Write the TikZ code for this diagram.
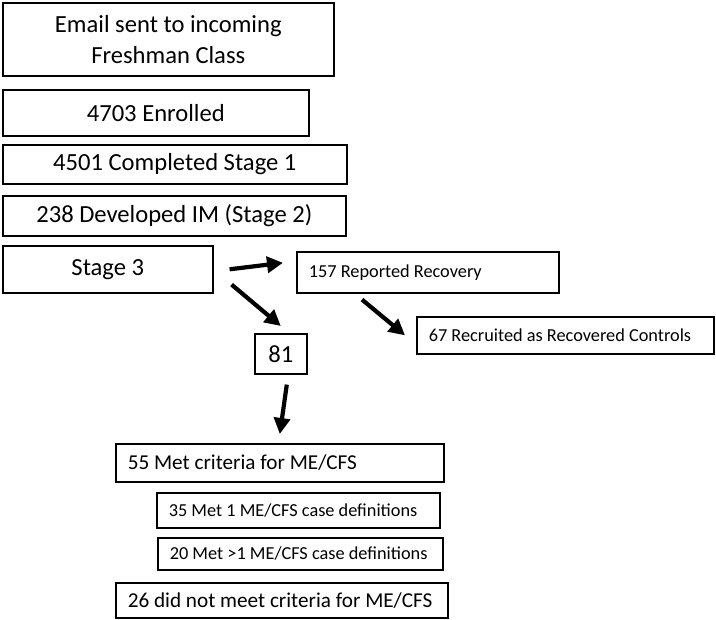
\documentclass[tikz,border=0pt]{standalone}
\usepackage{fontspec}
\setmainfont{Carlito}
\usetikzlibrary{arrows.meta}

\begin{document}
\begin{tikzpicture}[x=1pt,y=-1pt,
			box/.style={draw,line width=1.6pt,inner sep=0pt,anchor=north west,align=center},
			lbox/.style={box,align=flush left,inner xsep=12pt,inner ysep=0pt},
			big/.style={font=\fontsize{24.6}{31}\selectfont},
			mid/.style={font=\fontsize{21.2}{25}\selectfont},
			small/.style={font=\fontsize{18.3}{22}\selectfont},
			tiny/.style={font=\fontsize{18.3}{21}\selectfont},
			flow/.style={-{Triangle[length=16pt,width=16pt]},line width=4.2pt}
			]
		\useasboundingbox (0,0) rectangle (716,620);
		% main column
		\node [box, big, minimum width=331pt, minimum height=73pt] (email) at (2,2) {Email sent to incoming\\Freshman Class};
		\node [box, big, minimum width=306pt, minimum height=46pt] (enr) at (2,89) {4703 Enrolled};
		\node [box, big, minimum width=344pt, minimum height=39pt] (st1) at (2,144) {4501 Completed Stage 1};
		\node [box, big, minimum width=343pt, minimum height=40pt] (st2) at (2,195) {238 Developed IM (Stage 2)};
		\node [box, big, minimum width=210pt, minimum height=47pt] (st3) at (2,245) {Stage 3};

		% recovery branch
		\node [lbox, tiny, text width=238pt, minimum height=41pt] (rec) at (296,251) {157 Reported Recovery};
		\node [lbox, tiny, text width=273pt, minimum height=37pt] (rcv) at (416,316) {67 Recruited as Recovered Controls};

		% ME/CFS branch
		\node [box, big, minimum width=52pt, minimum height=40pt] (n81) at (254,333) {81};
		\node [lbox, mid, text width=304pt, minimum height=38pt] (met) at (115,443) {55 Met criteria for ME/CFS};
		\node [lbox, small, text width=259pt, minimum height=35pt] (one) at (156,492) {35 Met 1 ME/CFS case definitions};
		\node [lbox, small, text width=261pt, minimum height=32pt] (multi) at (157,537) {20 Met >1 ME/CFS case definitions};
		\node [lbox, mid, text width=308pt, minimum height=35pt] (notmet) at (115,582) {26 did not meet criteria for ME/CFS};

		\draw [flow] ([xshift=16pt]st3.east) -- ([xshift=-13pt,yshift=9.5pt]rec.west);
		\draw [flow] ([xshift=18pt,yshift=9pt]st3.south east) -- ([yshift=7pt]n81.north);
		\draw [flow] ([xshift=66pt,yshift=-6pt]rec.south west) -- ([xshift=-11pt]rcv.west);
		\draw [flow] ([xshift=6pt,yshift=-10pt]n81.south) -- ([yshift=9pt]met.north);
		\end{tikzpicture}
\end{document}
